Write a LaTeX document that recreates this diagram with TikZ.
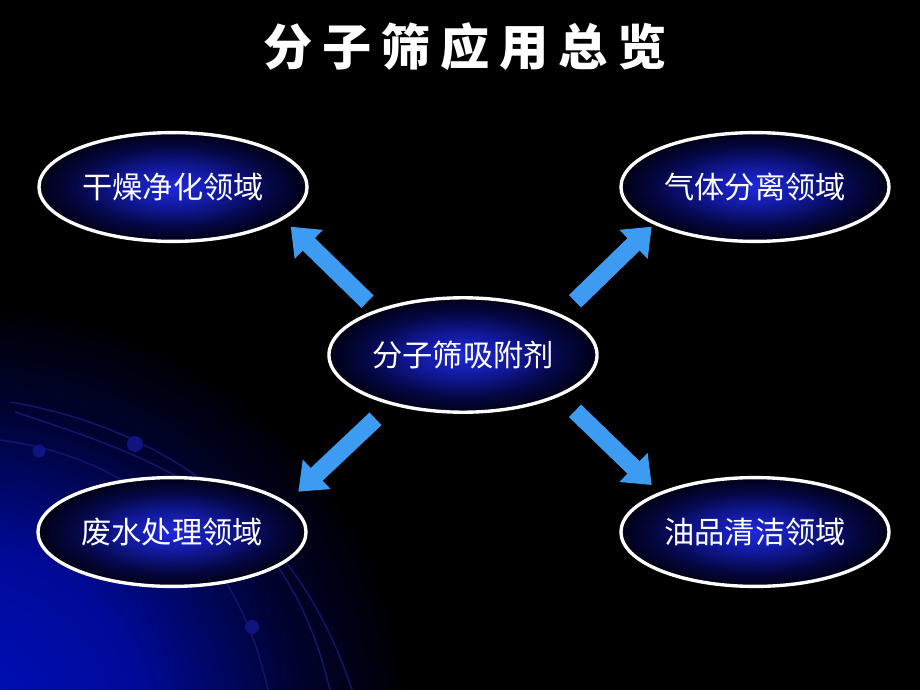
\documentclass[tikz,border=0pt]{standalone}
\usepackage{fontspec}
\usepackage{tikz}
\usetikzlibrary{shapes.geometric}
\usetikzlibrary{arrows.meta}
\newfontfamily\cjk{Noto Sans CJK SC}
\newfontfamily\titlecjk[LetterSpace=20]{Noto Sans CJK SC}
\definecolor{arrowblue}{RGB}{62,155,242}
\definecolor{swirlblue}{RGB}{20,20,105}
\definecolor{dotblue}{RGB}{14,20,128}
\pgfdeclareradialshading{ovalglow}{\pgfpoint{0bp}{0bp}}{rgb(0bp)=(0.12,0.16,0.86); rgb(9bp)=(0.07,0.1,0.62); rgb(18bp)=(0.02,0.03,0.28); rgb(25bp)=(0,0,0.08)}
\pgfdeclareradialshading{cornerglow}{\pgfpoint{0bp}{0bp}}{rgb(0bp)=(0,0.06,0.74); rgb(10bp)=(0,0.04,0.6); rgb(19bp)=(0,0.01,0.18); rgb(25bp)=(0,0,0)}

\begin{document}
\begin{tikzpicture}[x=0.025cm,y=-0.025cm,
  field/.style={ellipse,draw=white,line width=2.4pt,shading=ovalglow,
    minimum width=6.7cm,minimum height=2.72cm,inner sep=0pt,text=white,
    font=\cjk\fontsize{21.5}{25}\selectfont},
  fatarrow/.style={draw=arrowblue,line width=12.4pt,
    -{Triangle[length=18pt,width=27.6pt]}},
  swirl/.style={draw=swirlblue,line width=1.1pt}]
  \useasboundingbox
    (0,0)
    rectangle
    (920,690);
  \fill[black]
    (0,0)
    rectangle
    (920,690);
  \begin{scope}
    \clip (0,0) rectangle (920,690);
    \shade[shading=cornerglow]
      (-40,720)
      ellipse
      [x radius=450, y radius=420];
  \end{scope}
  \draw[swirl]
    (10,402)
    .. controls (175,430) and (300,530) ..
    (352,690);
  \draw[swirl]
    (15,412)
    .. controls (160,460) and (285,500) ..
    (330,690);
  \draw[swirl]
    (0,440)
    .. controls (150,460) and (240,560) ..
    (268,690);
  \fill[dotblue]
    (135,444)
    circle
    [radius=8];
  \fill[dotblue]
    (39,451)
    circle
    [radius=6.5];
  \fill[dotblue]
    (252,627)
    circle
    [radius=7];

  \node[text=white] (title) at (465,47)
    {\titlecjk\bfseries\fontsize{35}{40}\selectfont 分子筛应用总览};

  \node[field] (dry) at (173,187) {干燥净化领域};
  \node[field] (gas) at (755,187) {气体分离领域};
  \node[field,minimum height=2.86cm] (sieve) at (463,355) {分子筛吸附剂};
  \node[field] (water) at (172,532) {废水处理领域};
  \node[field] (oil) at (755,532) {油品清洁领域};

  \coordinate (dryTail) at (367.5,301.7);
  \coordinate (dryTip) at (290.7,226.7);
  \coordinate (gasTail) at (575,301.3);
  \coordinate (gasTip) at (651.7,226.7);
  \coordinate (waterTail) at (375.5,418.8);
  \coordinate (waterTip) at (298.3,491.7);
  \coordinate (oilTail) at (575,410.8);
  \coordinate (oilTip) at (651.7,485);

  \draw[fatarrow] (dryTail) -- (dryTip);
  \draw[fatarrow] (gasTail) -- (gasTip);
  \draw[fatarrow] (waterTail) -- (waterTip);
  \draw[fatarrow] (oilTail) -- (oilTip);
\end{tikzpicture}
\end{document}
